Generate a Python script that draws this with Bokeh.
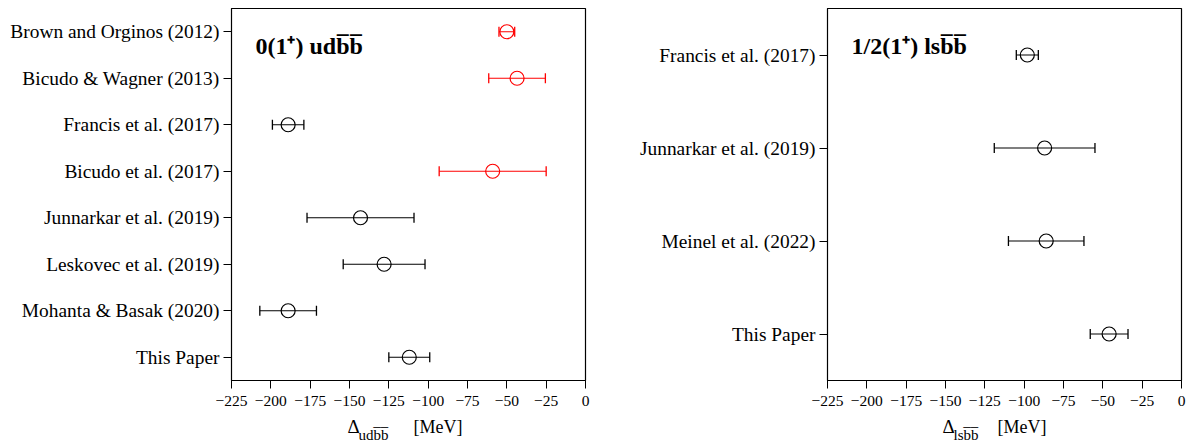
import math
from bokeh.plotting import figure
from bokeh.layouts import row, column
from bokeh.models import FactorRange, Range1d, FixedTicker, Label, ColumnDataSource
from bokeh.embed import file_html
from bokeh.resources import INLINE

# Binding energies (MeV) of the doubly-bottom tetraquarks from different lattice studies
ud_names = ["Brown and Orginos (2012)", "Bicudo & Wagner (2013)", "Francis et al. (2017)",
            "Bicudo et al. (2017)", "Junnarkar et al. (2019)", "Leskovec et al. (2019)",
            "Mohanta & Basak (2020)", "This Paper"]
ud_delta = [-50, -43.5, -189, -59, -143, -128, -189, -112]
ud_err_lo = [5, 18, 10, 34, 34, 26, 18, 13]
ud_err_hi = [5, 18, 10, 34, 34, 26, 18, 13]
ud_colors = ["red", "red", "black", "red", "black", "black", "black", "black"]

ls_names = ["Francis et al. (2017)", "Junnarkar et al. (2019)", "Meinel et al. (2022)", "This Paper"]
ls_delta = [-98, -87, -86, -46]
ls_err_lo = [7, 32, 24, 12]
ls_err_hi = [7, 32, 24, 12]
ls_colors = ["black", "black", "black", "black"]

x_ticks = [-225, -200, -175, -150, -125, -100, -75, -50, -25, 0]

FONT = "Liberation Serif"
OB = "\u0305"  # combining overline


def panel(names, delta, err_lo, err_hi, colors, width, border_left, border_right,
          title, title_x):
    src = ColumnDataSource(dict(
        name=names, val=delta,
        lo=[v - e for v, e in zip(delta, err_lo)],
        hi=[v + e for v, e in zip(delta, err_hi)],
        color=colors,
    ))
    p = figure(width=width, height=410,
               y_range=FactorRange(factors=names[::-1], range_padding=0),
               x_range=Range1d(-225, 0),
               output_backend="svg", toolbar_location=None,
               min_border_left=border_left, min_border_right=border_right,
               min_border_top=8, min_border_bottom=30)
    p.xgrid.visible = False
    p.ygrid.visible = False
    p.outline_line_color = "black"
    p.outline_line_width = 1.2

    p.xaxis.ticker = FixedTicker(ticks=x_ticks)
    p.xaxis.minor_tick_line_color = None
    for ax in (p.xaxis, p.yaxis):
        ax.major_tick_out = 8
        ax.major_tick_in = 0
        ax.axis_line_color = "black"
        ax.major_tick_line_color = "black"
        ax.major_label_text_font = FONT
        ax.major_label_text_color = "black"
    p.xaxis.major_label_text_font_size = "15.5px"
    p.yaxis.major_label_text_font_size = "19.4px"
    p.yaxis.major_label_standoff = 4
    p.xaxis.major_label_standoff = 7

    # error bars with end caps
    p.segment(x0="lo", y0="name", x1="hi", y1="name", source=src,
              line_color="color", line_width=1.2)
    p.scatter(x="lo", y="name", source=src, marker="dash", angle=math.pi / 2,
              size=10, line_color="color", line_width=1.3)
    p.scatter(x="hi", y="name", source=src, marker="dash", angle=math.pi / 2,
              size=10, line_color="color", line_width=1.3)
    # central values
    p.scatter(x="val", y="name", source=src, marker="circle", size=14,
              fill_color=None, line_color="color", line_width=1.2)

    # panel title
    p.add_layout(Label(x=title_x, y=335, x_units="screen", y_units="screen",
                       text=title, text_font=FONT, text_font_style="bold",
                       text_font_size="24px", text_color="black",
                       text_baseline="alphabetic"))
    return p


def axis_title(width, sub, delta_x, sub_x, mev_x):
    # strip under a panel carrying the x-axis title
    t = figure(width=width, height=33, x_range=Range1d(0, width), y_range=Range1d(0, 33),
               output_backend="svg", toolbar_location=None,
               x_axis_location=None, y_axis_location=None, min_border=0)
    t.xgrid.visible = False
    t.ygrid.visible = False
    t.outline_line_color = None
    t.add_layout(Label(x=delta_x, y=17, x_units="screen", y_units="screen",
                       text="\u0394", text_font=FONT, text_font_size="19px",
                       text_color="black", text_baseline="alphabetic"))
    t.add_layout(Label(x=sub_x, y=9, x_units="screen", y_units="screen",
                       text=sub, text_font=FONT, text_font_size="15px",
                       text_color="black", text_baseline="alphabetic"))
    t.add_layout(Label(x=mev_x, y=17, x_units="screen", y_units="screen",
                       text="[MeV]", text_font=FONT, text_font_size="18px",
                       text_color="black", text_baseline="alphabetic"))
    return t


p1 = panel(ud_names, ud_delta, ud_err_lo, ud_err_hi, ud_colors,
           width=610, border_left=231, border_right=25,
           title="0(1\u207a) udb" + OB + "b" + OB, title_x=24)
p2 = panel(ls_names, ls_delta, ls_err_lo, ls_err_hi, ls_colors,
           width=583, border_left=217, border_right=12,
           title="1/2(1\u207a) lsb" + OB + "b" + OB, title_x=24)
t1 = axis_title(610, "udb" + OB + "b" + OB, delta_x=347, sub_x=358, mev_x=413)
t2 = axis_title(583, "lsb" + OB + "b" + OB, delta_x=332, sub_x=343, mev_x=387)

layout = column(row(p1, p2), row(t1, t2))
open("out.html", "w").write(file_html(layout, INLINE))
